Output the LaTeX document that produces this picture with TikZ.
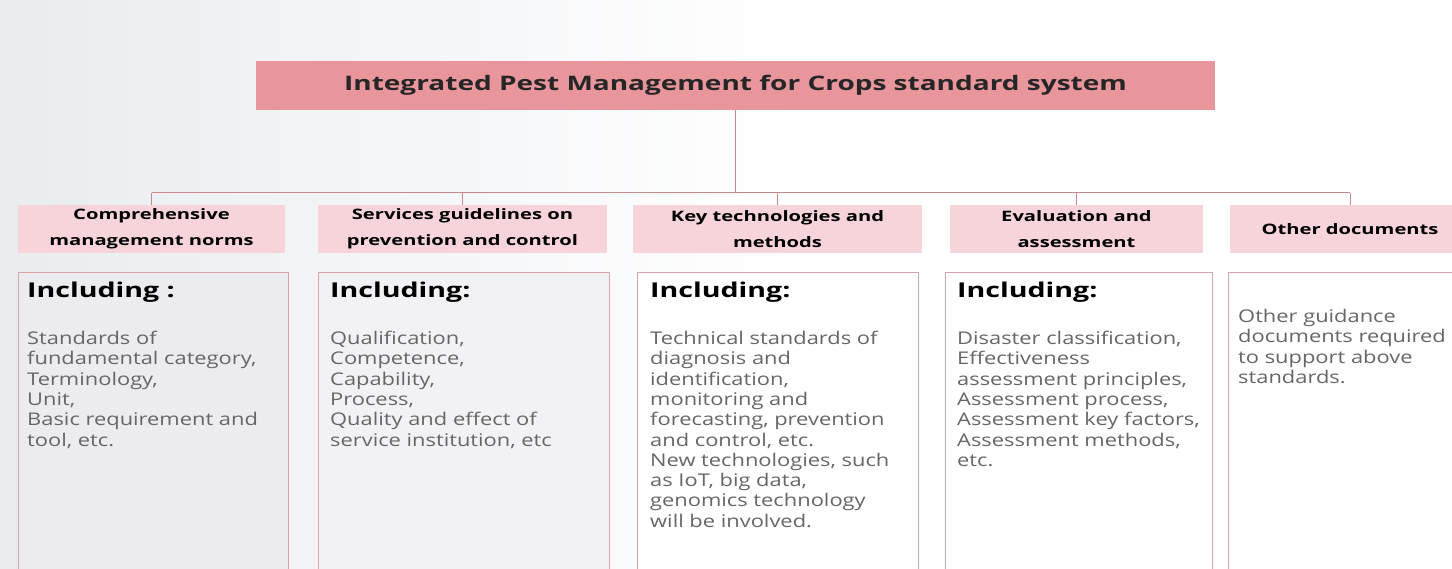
\documentclass[tikz,border=0pt]{standalone}
\usepackage{fontspec}
\setmainfont[FakeStretch=1.4]{Open Sans}
\newfontfamily\bodyfont[FakeStretch=1.25]{Open Sans}
\usetikzlibrary{positioning}

\definecolor{titlered}{HTML}{E8959C}
\definecolor{headpink}{HTML}{F6D4D9}
\definecolor{linepink}{HTML}{C98890}
\definecolor{boxline}{HTML}{D8A4AB}
\definecolor{bodygray}{HTML}{666666}
\definecolor{bggray}{HTML}{E9ECEF}
\definecolor{panegray}{HTML}{ECEBEF}

\newcommand\tightlines{\lineskiplimit=-20pt\relax}

\tikzset{
  titlebox/.style={fill=titlered, minimum width=959, minimum height=49, inner sep=0pt,
    font=\bfseries\fontsize{20}{24}\selectfont, text=black!85},
  headbox/.style={fill=headpink, minimum height=48, inner sep=0pt, align=center,
    font=\bfseries\fontsize{14.4}{26}\selectfont\tightlines},
  contentbox/.style={draw=boxline, line width=1pt, anchor=north west, minimum height=330, inner sep=0pt},
  inchead/.style={anchor=north west, inner sep=0pt, font=\bfseries\fontsize{20.4}{24}\selectfont},
  bodytext/.style={anchor=north west, inner sep=0pt, align=left, text=bodygray,
    font=\bodyfont\fontsize{17.5}{20.3}\selectfont\tightlines},
  connector/.style={draw=linepink, line width=1pt},
}

\begin{document}
\begin{tikzpicture}[x=1pt,y=-1pt]
\useasboundingbox (0,0) rectangle (1452,569);
\clip (0,0) rectangle (1452,569);
\fill[left color=bggray, right color=white] (0,0) rectangle (800,569);

% title
\node[titlebox] (title) at (735.5,85.5) {Integrated Pest Management for Crops standard system};

% headers
\node[headbox, minimum width=267] (h1) at (151.5,229) {Comprehensive\\management norms};
\node[headbox, minimum width=289] (h2) at (462.5,229) {Services guidelines on\\prevention and control};
\node[headbox, minimum width=289] (h3) at (777.5,229) {Key technologies and\\methods};
\node[headbox, minimum width=253] (h4) at (1076.5,229) {Evaluation and\\assessment};
\node[headbox, minimum width=240] (h5) at (1350,229) {Other documents};

% connectors
\coordinate (busL) at (h1.north |- 0,193);
\coordinate (busR) at (h5.north |- 0,193);
\draw[connector] (title.south) -- (title.south |- busL);
\draw[connector] (busL) -- (busR);
\foreach \h in {h1,h2,h3,h4,h5}
  \draw[connector] (\h.north |- busL) -- (\h.north);

% content boxes
\node[contentbox, fill=panegray, minimum width=270] (c1) at (18,272) {};
\node[contentbox, fill=panegray!70, minimum width=291] (c2) at (318,272) {};
\node[contentbox, fill=white, minimum width=281] (c3) at (637,272) {};
\node[contentbox, fill=white, minimum width=267] (c4) at (945,272) {};
\node[contentbox, fill=white, minimum width=240] (c5) at (1228,272) {};

\node[inchead] (i1) at (27,282) {Including :};
\node[inchead] (i2) at (330,282) {Including:};
\node[inchead] (i3) at (650,282) {Including:};
\node[inchead] (i4) at (957,282) {Including:};

\node[bodytext] (b1) at (27,331) {Standards of\\fundamental category,\\Terminology,\\Unit,\\Basic requirement and\\tool, etc.};
\node[bodytext] (b2) at (330,331) {Qualification,\\Competence,\\Capability,\\Process,\\Quality and effect of\\service institution, etc};
\node[bodytext] (b3) at (650,331) {Technical standards of\\diagnosis and\\identification,\\monitoring and\\forecasting, prevention\\and control, etc.\\New technologies, such\\as IoT, big data,\\genomics technology\\will be involved.};
\node[bodytext] (b4) at (957,331) {Disaster classification,\\Effectiveness\\assessment principles,\\Assessment process,\\Assessment key factors,\\Assessment methods,\\etc.};
\node[bodytext] (b5) at (1238,309) {Other guidance\\documents required\\to support above\\standards.};
\end{tikzpicture}
\end{document}
